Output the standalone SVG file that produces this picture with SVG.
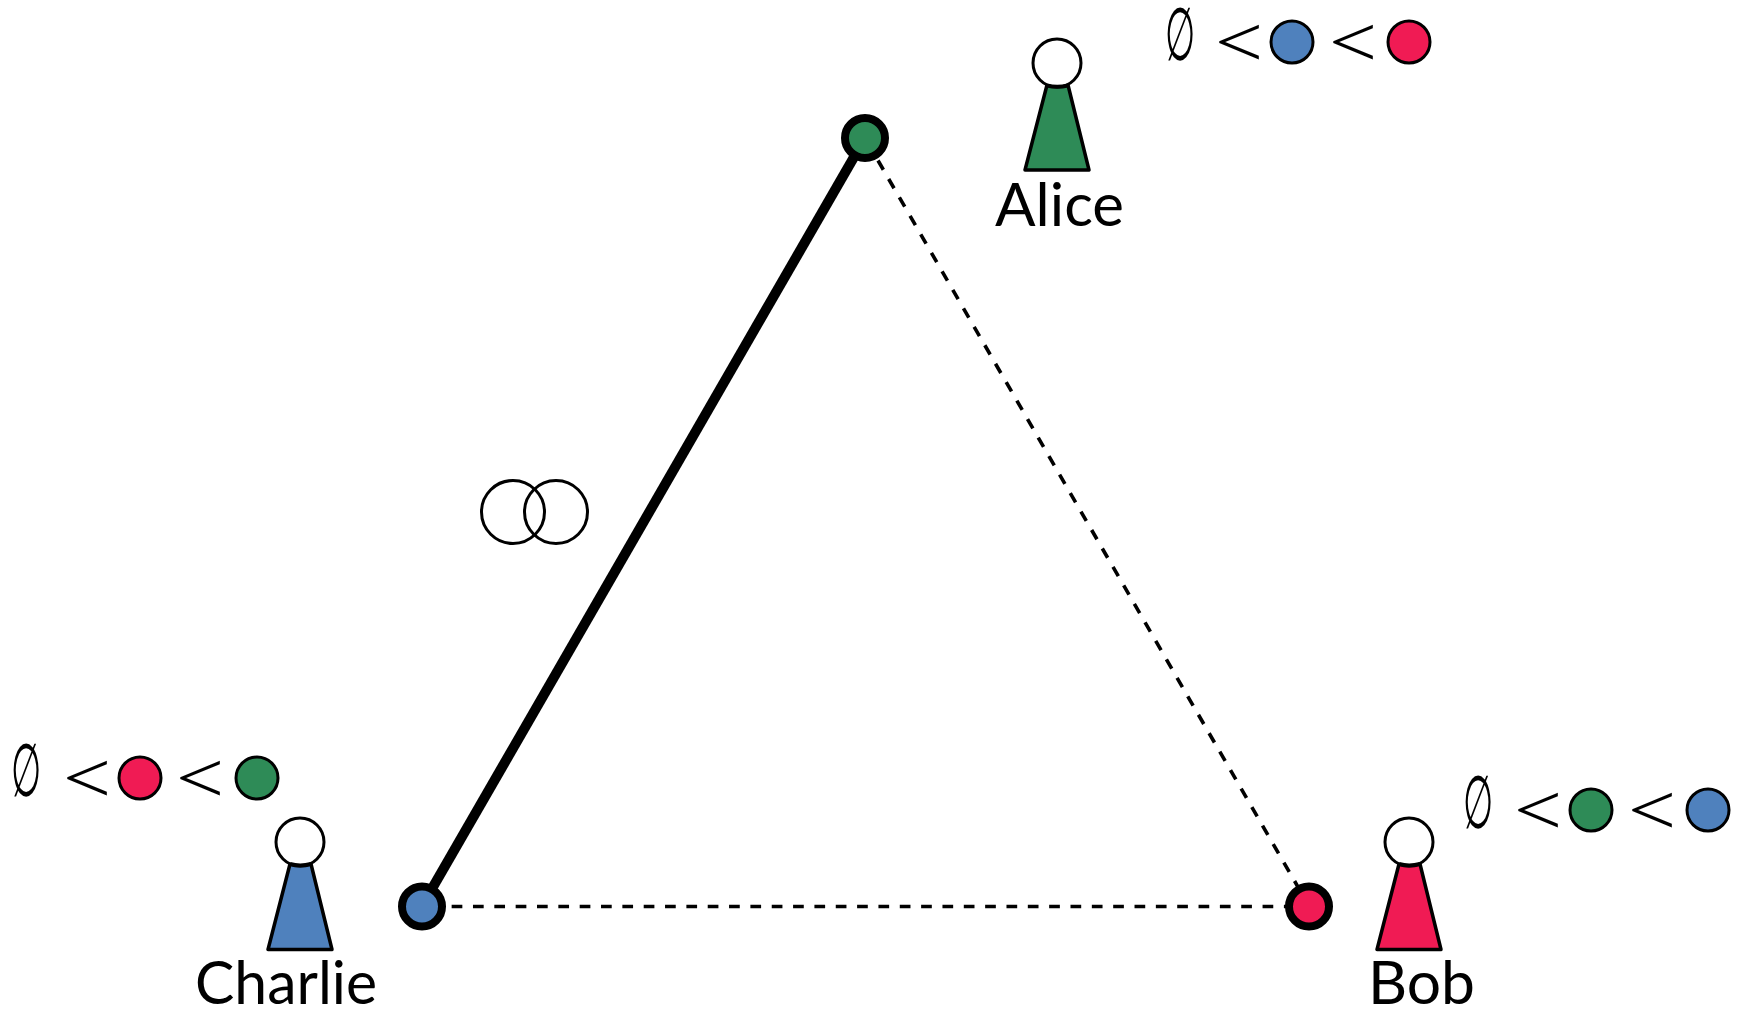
<svg xmlns="http://www.w3.org/2000/svg" width="1741" height="1010" viewBox="0 0 1741 1010">
<style>
.label{font-family:"Lato","Open Sans",sans-serif;font-size:60px;fill:#000}
.lt{font-family:"Liberation Serif","DejaVu Serif",serif;fill:#000;font-size:72px}
.empty{font-family:"DejaVu Sans",sans-serif;font-size:74px;font-weight:200;fill:#000}
.s{stroke:#000;stroke-width:3}
.head{fill:#fff;stroke:#000;stroke-width:3}
.body{stroke:#000;stroke-width:3.5;stroke-linejoin:round}
.v{stroke:#000;stroke-width:8}
.dash{fill:none;stroke:#000;stroke-width:3.6;stroke-dasharray:10.7 10.64}
.g{fill:#2E8B57}.b{fill:#4F81BD}.r{fill:#F01B54}
</style>
<g id="connectors">
<line x1="865" y1="138" x2="422" y2="906" stroke="#000" stroke-width="10"/>
<line class="dash" x1="865" y1="138" x2="1309" y2="906" stroke-dashoffset="-4.66"/>
<line class="dash" x1="422" y1="906.500" x2="1309" y2="906.500" stroke-dashoffset="-8.3"/>
</g>
<g id="node-top"><circle class="g v" cx="865" cy="138" r="20"/></g>
<g id="node-left"><circle class="b v" cx="422" cy="906.500" r="20"/></g>
<g id="node-right"><circle class="r v" cx="1309" cy="906.500" r="20"/></g>
<g id="venn">
<circle cx="513" cy="512" r="31.5" fill="none" stroke="#000" stroke-width="3"/>
<circle cx="556" cy="512" r="31.5" fill="none" stroke="#000" stroke-width="3"/>
</g>
<g id="alice">
<path class="body g" d="M1047 85H1068L1089 170H1025Z"/>
<circle class="head" cx="1057" cy="63" r="24"/>
<path d="M1047 85.500Q1057 88 1068 85.500" fill="none" stroke="#000" stroke-width="4"/>
<text class="label" x="995" y="226" textLength="129" lengthAdjust="spacingAndGlyphs">Alice</text>
</g>
<g id="alice-pref">
<text class="empty" x="1165" y="59.500" textLength="30" lengthAdjust="spacingAndGlyphs">∅</text>
<text class="lt" x="1215" y="66" textLength="48" lengthAdjust="spacingAndGlyphs">&lt;</text>
<circle class="b s" cx="1292" cy="42" r="21"/>
<text class="lt" x="1329" y="66" textLength="48" lengthAdjust="spacingAndGlyphs">&lt;</text>
<circle class="r s" cx="1409" cy="42" r="21"/>
</g>
<g id="charlie">
<path class="body b" d="M290 864H311L332 949.500H268Z"/>
<circle class="head" cx="300" cy="842" r="24"/>
<path d="M290 864Q300 867 311 864" fill="none" stroke="#000" stroke-width="4"/>
<text class="label" x="195" y="1004" textLength="182" lengthAdjust="spacingAndGlyphs">Charlie</text>
</g>
<g id="charlie-pref">
<text class="empty" x="11" y="795.500" textLength="30" lengthAdjust="spacingAndGlyphs">∅</text>
<text class="lt" x="63" y="802" textLength="48" lengthAdjust="spacingAndGlyphs">&lt;</text>
<circle class="r s" cx="140" cy="778" r="21"/>
<text class="lt" x="176" y="802" textLength="48" lengthAdjust="spacingAndGlyphs">&lt;</text>
<circle class="g s" cx="257" cy="778" r="21"/>
</g>
<g id="bob">
<path class="body r" d="M1399 864H1420L1441 949.500H1377Z"/>
<circle class="head" cx="1409" cy="842" r="24"/>
<path d="M1399 864Q1409 867 1420 864" fill="none" stroke="#000" stroke-width="4"/>
<text class="label" x="1368" y="1004" textLength="107" lengthAdjust="spacingAndGlyphs">Bob</text>
</g>
<g id="bob-pref">
<text class="empty" x="1463" y="827.500" textLength="30" lengthAdjust="spacingAndGlyphs">∅</text>
<text class="lt" x="1514" y="834" textLength="48" lengthAdjust="spacingAndGlyphs">&lt;</text>
<circle class="g s" cx="1591" cy="810" r="21"/>
<text class="lt" x="1628" y="834" textLength="48" lengthAdjust="spacingAndGlyphs">&lt;</text>
<circle class="b s" cx="1708" cy="810" r="21"/>
</g>
</svg>
